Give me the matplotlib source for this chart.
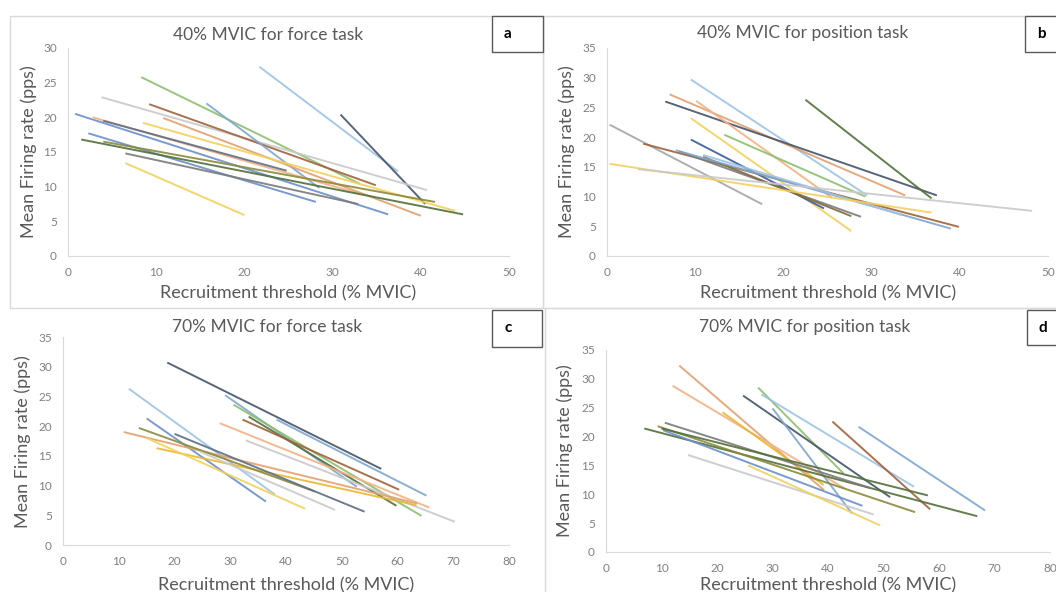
import matplotlib.pyplot as plt
from matplotlib.patches import Rectangle

plt.rcParams['font.family'] = ['Lato', 'DejaVu Sans']

# --- data: regression lines (recruitment threshold -> mean firing rate) ---
# panel a: 40% MVIC force task
a_x = [[21.7, 37.4], [30.9, 40.5], [8.3, 33.1], [3.8, 40.7], [9.2, 34.9], [15.7, 28.5],
       [0.8, 36.3], [2.8, 33.0], [10.8, 40.0], [4.0, 24.8], [8.5, 43.9], [2.3, 28.1],
       [1.5, 44.8], [4.0, 41.6], [6.5, 32.9], [6.5, 20.0]]
a_y = [[27.3, 12.2], [20.4, 7.5], [25.8, 10.4], [22.9, 9.5], [21.9, 10.2], [22.0, 9.8],
       [20.5, 6.0], [20.0, 9.0], [19.9, 5.8], [19.5, 12.3], [19.2, 6.5], [17.7, 7.8],
       [16.8, 6.0], [16.5, 7.8], [14.8, 7.5], [13.4, 5.9]]

# panel b: 40% MVIC position task
b_x = [[9.5, 29.5], [7.1, 33.8], [6.6, 37.4], [10.1, 25.5], [22.5, 36.8], [9.5, 27.7],
       [0.3, 17.6], [13.3, 29.3], [9.5, 24.6], [4.1, 39.9], [8.2, 28.8], [10.9, 27.7],
       [7.8, 39.0], [10.9, 33.4], [0.3, 36.8], [3.5, 48.2]]
b_y = [[29.7, 10.2], [27.2, 10.2], [26.0, 10.2], [26.1, 9.8], [26.3, 9.7], [23.2, 4.2],
       [22.1, 8.7], [20.4, 10.0], [19.6, 8.0], [18.9, 4.9], [17.6, 6.6], [16.7, 6.7],
       [17.8, 4.6], [17.0, 6.9], [15.5, 7.3], [14.6, 7.6]]

# panel c: 70% MVIC force task
c_x = [[18.7, 57.1], [11.8, 38.0], [29.1, 52.7], [30.6, 64.3], [33.3, 59.8], [38.3, 65.2],
       [32.2, 60.3], [28.1, 65.7], [32.8, 70.3], [15.0, 36.4], [10.9, 63.5], [16.8, 63.4],
       [13.6, 45.2], [20.0, 54.1], [15.0, 43.4], [24.6, 48.8]]
c_y = [[30.7, 12.8], [26.3, 8.5], [25.2, 9.8], [23.6, 4.9], [21.6, 6.6], [21.1, 8.3],
       [21.1, 9.3], [20.5, 6.3], [17.6, 3.9], [21.3, 7.3], [19.0, 7.0], [16.3, 6.7],
       [19.7, 9.0], [18.7, 5.6], [18.0, 6.1], [15.7, 5.9]]

# panel d: 70% MVIC position task
d_x = [[13.2, 39.3], [12.0, 43.0], [27.4, 42.8], [28.0, 55.5], [24.7, 51.2], [30.0, 44.3],
       [40.8, 58.4], [45.5, 68.3], [21.0, 39.2], [6.9, 66.9], [9.3, 55.7], [10.6, 47.6],
       [10.3, 46.2], [10.0, 58.0], [14.8, 48.2], [25.6, 49.4]]
d_y = [[32.3, 10.7], [28.8, 11.0], [28.5, 13.6], [27.3, 11.3], [27.1, 9.5], [24.9, 6.7],
       [22.6, 7.4], [21.7, 7.2], [24.2, 11.6], [21.4, 6.2], [21.8, 6.9], [22.4, 11.1],
       [21.1, 8.0], [21.4, 9.8], [16.8, 6.5], [15.0, 4.6]]

titles = ['40% MVIC for force task', '40% MVIC for position task',
          '70% MVIC for force task', '70% MVIC for position task']
letters = ['a', 'b', 'c', 'd']
x_max = [50, 50, 80, 80]
y_max = [30, 35, 35, 35]

# colours (washed-out Excel palette)
LB = '#9DC3E6'; NV = '#44546A'; GR = '#8CBF6E'; LG = '#C9C9C9'; BR = '#A0623A'
SB = '#7FA7D0'; BL = '#6A8FCB'; PE = '#F4B183'; OR = '#E3A070'; DS = '#5E6E86'
YE = '#F2D15C'; DG = '#52703A'; OL = '#8A8A3A'; DY = '#7A7A7A'; GO = '#E8B830'
MG = '#A5A5A5'; DB = '#3B5C9A'; OB = '#7F6A3A'

a_col = [LB, NV, GR, LG, BR, SB, BL, PE, OR, DS, YE, BL, DG, OL, DY, YE]
b_col = [LB, OR, NV, PE, DG, YE, MG, GR, DB, BR, DY, OB, SB, LB, YE, LG]
c_col = [NV, LB, SB, GR, DG, SB, BR, PE, LG, BL, OR, GO, OL, DS, YE, LG]
d_col = [OR, PE, GR, LB, NV, SB, BR, SB, GO, DG, OL, DY, BL, DG, LG, YE]

W, H = 1056, 592
fig = plt.figure(figsize=(W / 100, H / 100), dpi=100)

# axes boxes in pixels: left, right, top, bottom
boxes = [(68, 509, 48, 256), (607, 1048, 48, 256), (63, 509, 337, 545), (606, 1050, 350, 552)]
title_pos = [(268, 35), (803, 33), (267, 327), (805, 327)]
xlab_pos = [(288, 293), (828, 293), (286, 585), (828, 585)]
ylab_pos = [(29, 152), (567, 152), (23, 442), (565, 451)]
letter_box = [(492, 16, 51, 36), (1025, 16, 40, 36), (492, 310, 50, 37), (1027, 310, 40, 35)]

all_x = [a_x, b_x, c_x, d_x]
all_y = [a_y, b_y, c_y, d_y]
all_c = [a_col, b_col, c_col, d_col]

# panel frames
fig.patches.append(Rectangle((10 / W, 1 - 308 / H), 533 / W, 292 / H, transform=fig.transFigure,
                             fill=False, ec='#D9D9D9', lw=1))
fig.patches.append(Rectangle((543 / W, 1 - 308 / H), 520 / W, 292 / H, transform=fig.transFigure,
                             fill=False, ec='#D9D9D9', lw=1))
fig.patches.append(Rectangle((545 / W, 1 - 600 / H), 520 / W, 292 / H, transform=fig.transFigure,
                             fill=False, ec='#D9D9D9', lw=1))

for i in range(4):
    l, r, t, b = boxes[i]
    ax = fig.add_axes([l / W, 1 - b / H, (r - l) / W, (b - t) / H])
    for xs, ys, col in zip(all_x[i], all_y[i], all_c[i]):
        ax.plot(xs, ys, color=col, lw=1.4, alpha=0.9, solid_capstyle='butt')
    ax.set_xlim(0, x_max[i])
    ax.set_ylim(0, y_max[i])
    ax.set_xticks(range(0, x_max[i] + 1, 10))
    ax.set_yticks(range(0, y_max[i] + 1, 5))
    ax.tick_params(length=0, labelsize=8.5, labelcolor='#808080', pad=8)
    for s in ['top', 'right']:
        ax.spines[s].set_visible(False)
    for s in ['left', 'bottom']:
        ax.spines[s].set_color('#D9D9D9')

    tx, ty = title_pos[i]
    fig.text(tx / W, 1 - ty / H, titles[i], ha='center', va='center', fontsize=12.5, color='#595959')
    xx, xy = xlab_pos[i]
    fig.text(xx / W, 1 - xy / H, 'Recruitment threshold (% MVIC)', ha='center', va='center',
             fontsize=13, color='#595959')
    yx, yy = ylab_pos[i]
    fig.text(yx / W, 1 - yy / H, 'Mean Firing rate (pps)', ha='center', va='center',
             fontsize=13, color='#595959', rotation=90)

    bx, by, bw, bh = letter_box[i]
    fig.patches.append(Rectangle((bx / W, 1 - (by + bh) / H), bw / W, bh / H, transform=fig.transFigure,
                                 fc='white', ec='#595959', lw=1))
    fig.text((bx + 16) / W, 1 - (by + bh / 2) / H, letters[i], ha='center', va='center',
             fontsize=11, fontweight='bold', color='black')

fig.savefig('out.png', dpi=100)
